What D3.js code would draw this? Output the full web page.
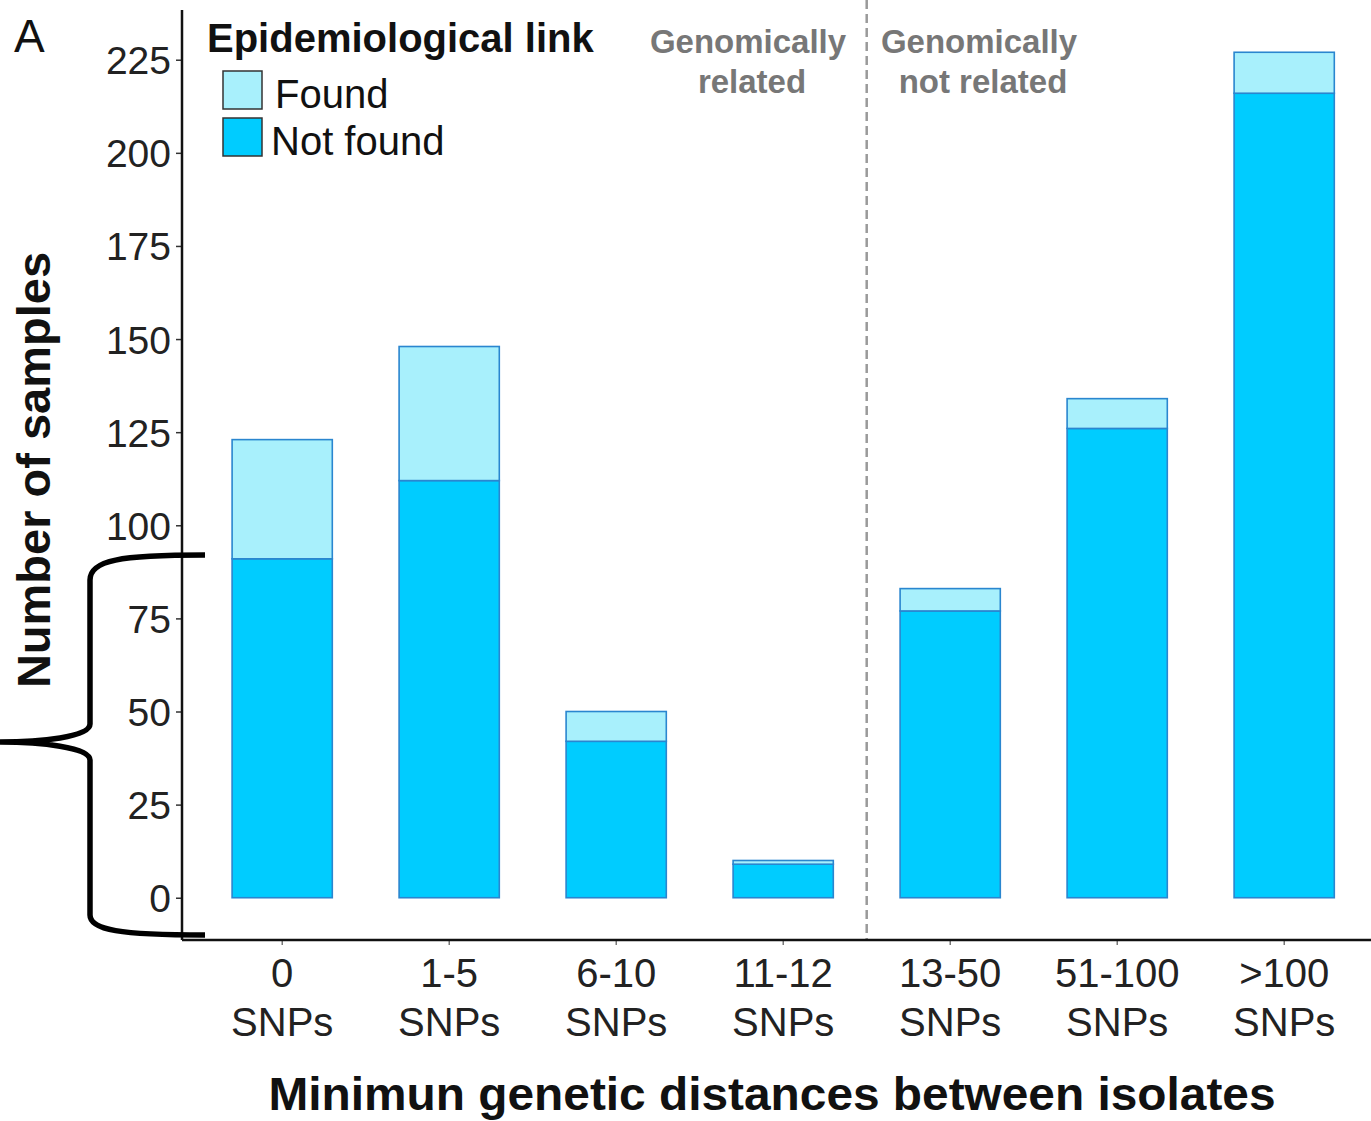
<!DOCTYPE html>
<html>
<head>
<meta charset="utf-8">
<script src="https://cdn.jsdelivr.net/npm/d3@7"></script>
<style>
  html, body { margin: 0; padding: 0; background: #fff; }
  svg text { font-family: "Liberation Sans", Arial, sans-serif; }
</style>
</head>
<body>
<div id="chart"></div>
<script>
// categories (two-line tick labels)
const categories = ["0 SNPs", "1-5 SNPs", "6-10 SNPs", "11-12 SNPs", "13-50 SNPs", "51-100 SNPs", ">100 SNPs"];
const notFound = [91, 112, 42, 9, 77, 126, 216];
const found = [32, 36, 8, 1, 6, 8, 11];
const yTicks = [0, 25, 50, 75, 100, 125, 150, 175, 200, 225];
const seriesNames = ["Found", "Not found"];
const seriesColors = ["#a8f0fc", "#00ccff"];
// brace covers counts from 0 up to this value
const braceTop = 92;

const chartWidth = 1371, chartHeight = 1121;
const plotLeft = 182, axisY = 940, plotTop = 10;

const svg = d3.select("#chart").append("svg")
  .attr("width", chartWidth)
  .attr("height", chartHeight);

// ggplot-like expansion
const total = notFound.map((v, i) => v + found[i]);
const maxTotal = d3.max(total);
const y = d3.scaleLinear()
  .domain([-maxTotal * 0.05, maxTotal * 1.05])
  .range([axisY, plotTop]);

const x = d3.scaleBand()
  .domain(categories)
  .range([plotLeft, plotLeft + 167 * 7.2])
  .paddingInner(0.4)
  .paddingOuter(0.3);

const stack = d3.stack().keys(["notFound", "found"])(
  categories.map((c, i) => ({ cat: c, notFound: notFound[i], found: found[i] }))
);

// dashed separator between related / not related
const sepX = (x(categories[3]) + x.bandwidth() + x(categories[4])) / 2;
svg.append("line")
  .attr("x1", sepX).attr("x2", sepX)
  .attr("y1", 0).attr("y2", axisY)
  .attr("stroke", "#9a9a9a")
  .attr("stroke-width", 2.5)
  .attr("stroke-dasharray", "9,5");

// bars
const layerColor = { notFound: seriesColors[1], found: seriesColors[0] };
svg.append("g").selectAll("g")
  .data(stack)
  .join("g")
    .attr("fill", d => layerColor[d.key])
  .selectAll("rect")
  .data(d => d)
  .join("rect")
    .attr("x", d => x(d.data.cat))
    .attr("width", x.bandwidth())
    .attr("y", d => y(d[1]))
    .attr("height", d => y(d[0]) - y(d[1]))
    .attr("stroke", "#2a86cf")
    .attr("stroke-width", 1.6);

// y axis
const yAxis = svg.append("g")
  .attr("transform", "translate(" + plotLeft + ",0)")
  .call(d3.axisLeft(y).tickValues(yTicks).tickSize(6).tickPadding(5));
yAxis.select(".domain").remove();
yAxis.selectAll(".tick line").attr("stroke", "#333").attr("stroke-width", 1.5);
yAxis.selectAll(".tick text")
  .attr("font-size", 39)
  .attr("fill", "#222")
  .attr("dy", "0.36em");
svg.append("line")
  .attr("x1", plotLeft).attr("x2", plotLeft)
  .attr("y1", plotTop).attr("y2", axisY)
  .attr("stroke", "#111").attr("stroke-width", 2.5);

// x axis
const xAxis = svg.append("g")
  .attr("transform", "translate(0," + axisY + ")")
  .call(d3.axisBottom(x).tickSize(5).tickFormat(""));
xAxis.select(".domain").remove();
xAxis.selectAll(".tick line").attr("stroke", "#555").attr("stroke-width", 1.2);
svg.append("line")
  .attr("x1", plotLeft).attr("x2", chartWidth)
  .attr("y1", axisY).attr("y2", axisY)
  .attr("stroke", "#111").attr("stroke-width", 2.5);

const xLabels = svg.append("g").selectAll("text")
  .data(categories)
  .join("text")
    .attr("x", d => x(d) + x.bandwidth() / 2)
    .attr("text-anchor", "middle")
    .attr("font-size", 40)
    .attr("fill", "#222");
xLabels.append("tspan")
  .attr("x", d => x(d) + x.bandwidth() / 2)
  .attr("y", 987)
  .text(d => d.split(" ")[0]);
xLabels.append("tspan")
  .attr("x", d => x(d) + x.bandwidth() / 2)
  .attr("y", 1036)
  .text(d => d.split(" ")[1]);

// axis titles
svg.append("text")
  .attr("transform", "translate(772,1110) scale(1.04,1)")
  .attr("text-anchor", "middle")
  .attr("font-size", 46)
  .attr("font-weight", "bold")
  .attr("fill", "#111")
  .text("Minimun genetic distances between isolates");

svg.append("text")
  .attr("transform", "translate(50,470) rotate(-90)")
  .attr("text-anchor", "middle")
  .attr("font-size", 47)
  .attr("font-weight", "bold")
  .attr("fill", "#111")
  .text("Number of samples");

// panel letter
svg.append("text")
  .attr("x", 14).attr("y", 52)
  .attr("font-size", 46)
  .attr("fill", "#111")
  .text("A");

// legend
const legend = svg.append("g");
legend.append("text")
  .attr("x", 207).attr("y", 52)
  .attr("font-size", 40)
  .attr("font-weight", "bold")
  .attr("fill", "#111")
  .text("Epidemiological link");
const items = legend.selectAll("g.item")
  .data(seriesNames)
  .join("g")
    .attr("class", "item")
    .attr("transform", (d, i) => "translate(223," + (71 + i * 47) + ")");
items.append("rect")
  .attr("width", 39).attr("height", 38)
  .attr("fill", (d, i) => seriesColors[i])
  .attr("stroke", "#333")
  .attr("stroke-width", 1.5);
items.append("text")
  .attr("x", (d, i) => i ? 48 : 52).attr("y", 37)
  .attr("font-size", 40)
  .attr("fill", "#111")
  .text(d => d);

// region annotations
const noteColor = "#777";
const notes = [
  { lines: ["Genomically", "related"], cx: 748 },
  { lines: ["Genomically", "not related"], cx: 979 }
];
notes.forEach(n => {
  n.lines.forEach((t, i) => {
    svg.append("text")
      .attr("x", n.cx + (i ? 4 : 0))
      .attr("y", 53 + i * 40)
      .attr("text-anchor", "middle")
      .attr("font-size", 33)
      .attr("font-weight", "bold")
      .attr("fill", noteColor)
      .text(t);
  });
});

// curly brace on the left
const bTop = y(braceTop), bBot = axisY - 5;
const bMid = (bTop + bBot) / 2 - 3;
const braceX = 90, braceEnd = 205;
const brace = d3.path();
brace.moveTo(braceEnd, bTop);
brace.bezierCurveTo(120, bTop, braceX, bTop + 5, braceX, bTop + 25);
brace.lineTo(braceX, bMid - 18);
brace.bezierCurveTo(braceX, bMid - 5, 40, bMid, 0, bMid);
brace.bezierCurveTo(40, bMid, braceX, bMid + 5, braceX, bMid + 18);
brace.lineTo(braceX, bBot - 20);
brace.bezierCurveTo(braceX, bBot - 5, 120, bBot, braceEnd, bBot);
svg.append("path")
  .attr("d", brace.toString())
  .attr("fill", "none")
  .attr("stroke", "#000")
  .attr("stroke-width", 5.5);
</script>
</body>
</html>
